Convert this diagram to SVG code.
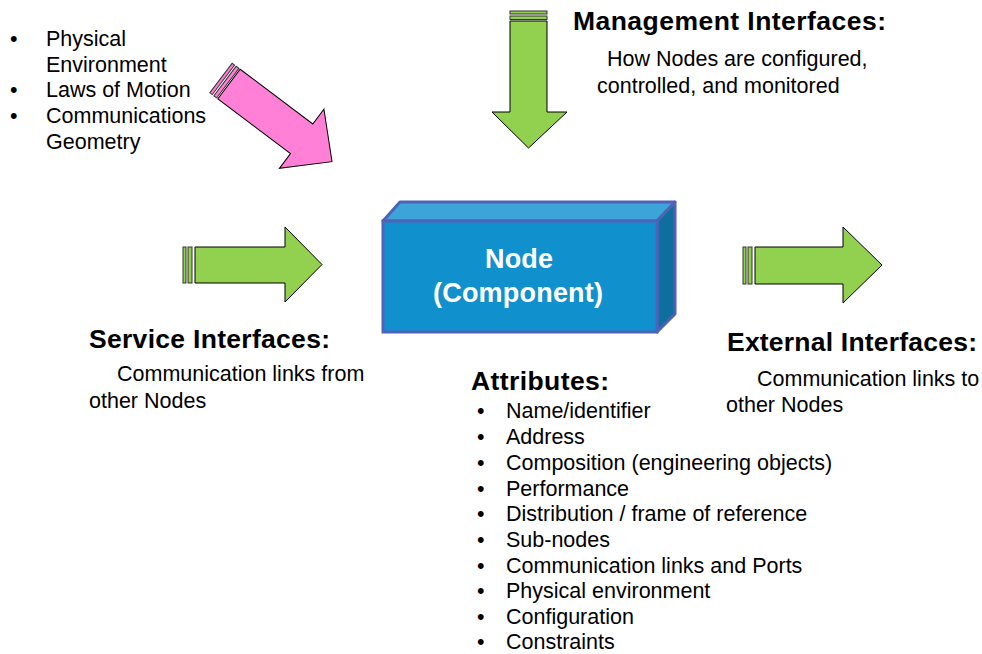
<svg xmlns="http://www.w3.org/2000/svg" width="982" height="654" viewBox="0 0 982 654">
<style>
text{font-family:"Liberation Sans",Arial,sans-serif;fill:#000}
.t{font-size:21.5px}
.h{font-size:26.5px;font-weight:bold}
.nt{font-size:27px;font-weight:bold;fill:#fff}
.ga{fill:#92D050;stroke:#000;stroke-width:1}
.pa{fill:#FF80D6;stroke:#000;stroke-width:1}
.stg{fill:#92D050;stroke:#333;stroke-width:1}
.stp{fill:#FF80D6;stroke:#333;stroke-width:1}
</style>
<rect width="982" height="654" fill="#fff"/>
<g id="connectors">
  <g id="arrow-management">
    <rect class="stg" x="510" y="11" width="37" height="3"/>
    <rect class="stg" x="510" y="16" width="37" height="3.5"/>
    <polygon class="ga" points="510,21 547,21 547,112 567,112 528.5,148 492,112 510,112"/>
  </g>
  <g id="arrow-environment" transform="translate(221,78) rotate(37)">
    <rect class="stp" x="0" y="-18.5" width="3" height="37"/>
    <rect class="stp" x="5" y="-18.5" width="3.5" height="37"/>
    <polygon class="pa" points="10,-18.5 101,-18.5 101,-37 139,0 101,37 101,18.5 10,18.5"/>
  </g>
  <g id="arrow-service">
    <rect class="stg" x="183" y="247" width="3" height="36"/>
    <rect class="stg" x="188" y="247" width="4" height="36"/>
    <polygon class="ga" points="195,247 285,247 285,227 322,264.5 285,302 285,283 195,283"/>
  </g>
  <g id="arrow-external">
    <rect class="stg" x="743" y="247" width="3" height="37"/>
    <rect class="stg" x="748" y="247" width="4" height="37"/>
    <polygon class="ga" points="755,247 843,247 843,227 882,265 843,303 843,284 755,284"/>
  </g>
</g>
<g id="node">
  <polygon points="383,221 400,202 675,202 657,221" fill="#3CA4D8" stroke="#4E63B8" stroke-width="3" stroke-linejoin="round"/>
  <polygon points="657,221 675,202 675,314 657,332" fill="#0E6E9E" stroke="#4E63B8" stroke-width="3" stroke-linejoin="round"/>
  <rect x="383" y="221" width="274" height="111" fill="#1190CE" stroke="#4E63B8" stroke-width="3"/>
  <text class="nt" x="519" y="268" text-anchor="middle" textLength="68">Node</text>
  <text class="nt" x="518" y="302" text-anchor="middle" textLength="170">(Component)</text>
</g>
<g id="environment-list">
  <text class="t" x="10" y="46">•</text><text class="t" x="46" y="46">Physical</text>
  <text class="t" x="46" y="72">Environment</text>
  <text class="t" x="10" y="97">•</text><text class="t" x="46" y="97">Laws of Motion</text>
  <text class="t" x="10" y="123">•</text><text class="t" x="46" y="123">Communications</text>
  <text class="t" x="46" y="149">Geometry</text>
</g>
<g id="management-label">
  <text class="h" x="573" y="30" textLength="313">Management Interfaces:</text>
  <text class="t" x="607" y="66">How Nodes are configured,</text>
  <text class="t" x="597" y="93">controlled, and monitored</text>
</g>
<g id="service-label">
  <text class="h" x="89" y="348" textLength="241">Service Interfaces:</text>
  <text class="t" x="117" y="381">Communication links from</text>
  <text class="t" x="89" y="408">other Nodes</text>
</g>
<g id="external-label">
  <text class="h" x="727" y="351" textLength="250">External Interfaces:</text>
  <text class="t" x="757" y="386">Communication links to</text>
  <text class="t" x="726" y="412">other Nodes</text>
</g>
<g id="attributes">
  <text class="h" x="471" y="390" textLength="138">Attributes:</text>
  <text class="t" x="477" y="418">•</text><text class="t" x="506" y="418">Name/identifier</text>
  <text class="t" x="477" y="444">•</text><text class="t" x="506" y="444">Address</text>
  <text class="t" x="477" y="470">•</text><text class="t" x="506" y="470">Composition (engineering objects)</text>
  <text class="t" x="477" y="495.5">•</text><text class="t" x="506" y="495.5">Performance</text>
  <text class="t" x="477" y="521">•</text><text class="t" x="506" y="521">Distribution / frame of reference</text>
  <text class="t" x="477" y="547">•</text><text class="t" x="506" y="547">Sub-nodes</text>
  <text class="t" x="477" y="572.5">•</text><text class="t" x="506" y="572.5">Communication links and Ports</text>
  <text class="t" x="477" y="598">•</text><text class="t" x="506" y="598">Physical environment</text>
  <text class="t" x="477" y="623.5">•</text><text class="t" x="506" y="623.5">Configuration</text>
  <text class="t" x="477" y="649">•</text><text class="t" x="506" y="649">Constraints</text>
</g>
</svg>
